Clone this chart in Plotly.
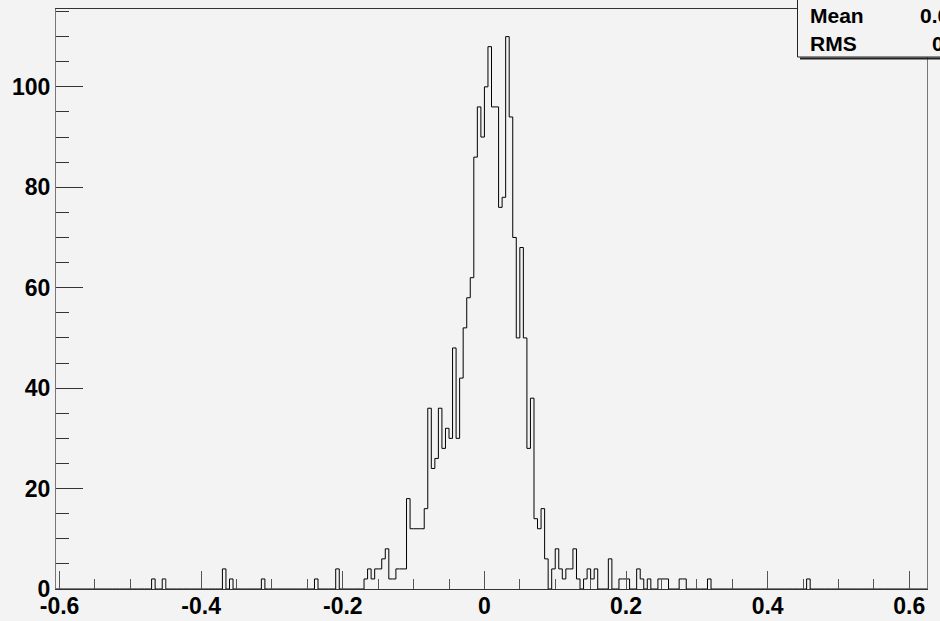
import numpy as np
import plotly.graph_objects as go

# ---- data ----
bin_width = 0.005
x_min, x_max = -0.605, 0.625
y_max = 115.5

core_first_bin = -34          # bin index i covers [i*0.005, (i+1)*0.005)
core_counts = [2, 4, 2, 4, 4, 6, 8, 2, 2, 4, 4, 4, 18, 12, 12, 12, 12, 16, 36, 24,
               26, 36, 28, 32, 30, 48, 30, 42, 52, 58, 62, 86, 96, 90,
               100, 108, 96, 96, 76, 78, 110, 94, 70, 50, 68, 50, 28, 38, 14, 12, 16, 6,
               0, 4, 8, 4, 2, 4, 4, 8, 2, 0, 2, 4, 2, 4,
               0, 0, 0, 6, 0, 0, 2, 2, 2, 0, 0, 4, 2, 0, 2, 0, 0, 2, 2, 2, 0, 0, 0, 2, 2,
               0, 0, 0, 0, 0, 0, 2]
tail_bins = [-94, -91, -74, -72, -63, -48, -42, 91]
tail_counts = [2, 2, 4, 2, 2, 2, 4, 2]

x_tick_vals = [-0.6, -0.4, -0.2, 0, 0.2, 0.4, 0.6]
x_tick_text = ["-0.6", "-0.4", "-0.2", "0", "0.2", "0.4", "0.6"]
y_tick_vals = [0, 20, 40, 60, 80, 100]
y_tick_text = ["0", "20", "40", "60", "80", "100"]

stat_names = ["Mean", "RMS"]
stat_values = ["0.004917", "0.05236"]

# ---- build histogram ----
n_bins = int(round((x_max - x_min) / bin_width))
offset = int(round(-x_min / bin_width))
counts = np.zeros(n_bins)
for k, c in enumerate(core_counts):
    counts[core_first_bin + k + offset] = c
for b, c in zip(tail_bins, tail_counts):
    counts[b + offset] = c
edges = x_min + bin_width * np.arange(n_bins + 1)
xs = np.concatenate([[edges[0]], edges])
ys = np.concatenate([[0], counts, [counts[-1]]])

bg = "#f3f3f3"
font_family = "Liberation Sans, Arial, Helvetica, sans-serif"

fig = go.Figure()
fig.add_trace(go.Scatter(x=xs, y=ys, mode="lines", line=dict(shape="hv", color="black", width=1),
                         hoverinfo="skip", showlegend=False))

W, H = 940, 621
ml, mr, mt, mb = 56, 13, 9, 32
pw, ph = W - ml - mr, H - mt - mb


def px(xp):
    return (xp - ml) / pw


def py(yp):
    return (H - mb - yp) / ph


fig.update_layout(
    width=W, height=H,
    margin=dict(l=ml, r=mr, t=mt, b=mb, pad=0, autoexpand=False),
    paper_bgcolor=bg, plot_bgcolor=bg,
    xaxis=dict(range=[x_min, x_max], tickvals=x_tick_vals, ticktext=x_tick_text,
               automargin=False,
               ticks="inside", ticklen=18, tickcolor="#555", tickwidth=1,
               minor=dict(dtick=0.05, tick0=0, ticks="inside", ticklen=10, tickcolor="#555"),
               showgrid=False, zeroline=False, showline=True, linecolor="#333", linewidth=1,
               mirror=True, ticklabelstandoff=-4,
               tickfont=dict(family=font_family, size=23, color="black", weight="bold")),
    yaxis=dict(range=[0, y_max], tickvals=y_tick_vals, ticktext=y_tick_text,
               automargin=False,
               ticks="inside", ticklen=27, tickcolor="#333", tickwidth=1,
               minor=dict(dtick=5, tick0=0, ticks="inside", ticklen=13, tickcolor="#333"),
               showgrid=False, zeroline=False, showline=True, linecolor="#777", linewidth=1,
               mirror=True, ticklabelstandoff=0,
               tickfont=dict(family=font_family, size=23, color="black", weight="bold")),
)

# stats box (partly outside the canvas, as in the reference)
fig.add_shape(type="line", xref="paper", yref="paper", x0=px(800), x1=px(960), y0=py(58.5), y1=py(58.5),
              line=dict(color="#222", width=2), layer="above")
fig.add_shape(type="rect", xref="paper", yref="paper", x0=px(797.5), x1=px(960), y0=py(57), y1=py(-10),
              fillcolor=bg, line=dict(color="#222", width=1), layer="above")
row_y = [16, 44]
stat_font = dict(family=font_family, size=21, color="black", weight="bold")
for name, yy in zip(stat_names, row_y):
    fig.add_annotation(xref="paper", yref="paper", x=px(808), y=py(yy), text=name, showarrow=False,
                       xanchor="left", yanchor="middle", font=stat_font)
fig.add_annotation(xref="paper", yref="paper", x=px(918), y=py(row_y[0]), text=stat_values[0], showarrow=False,
                   xanchor="left", yanchor="middle", font=stat_font)
fig.add_annotation(xref="paper", yref="paper", x=px(930), y=py(row_y[1]), text=stat_values[1], showarrow=False,
                   xanchor="left", yanchor="middle", font=stat_font)

fig.write_html("out.html")
